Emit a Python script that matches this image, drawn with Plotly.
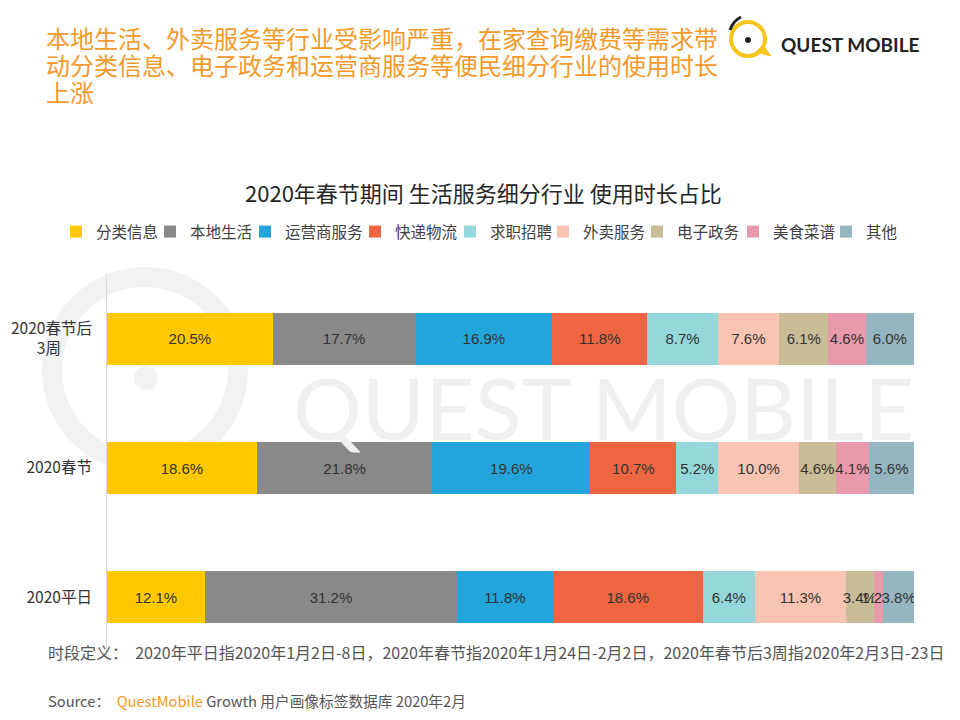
import plotly.graph_objects as go

categories = ["2020平日", "2020春节", "2020春节后<br>3周\u2003\u2003"]
series_names = ["分类信息", "本地生活", "运营商服务", "快递物流", "求职招聘", "外卖服务", "电子政务", "美食菜谱", "其他"]
# values per series, ordered as categories (平日, 春节, 春节后3周)
values = {
    "分类信息": [12.1, 18.6, 20.5],
    "本地生活": [31.2, 21.8, 17.7],
    "运营商服务": [11.8, 19.6, 16.9],
    "快递物流": [18.6, 10.7, 11.8],
    "求职招聘": [6.4, 5.2, 8.7],
    "外卖服务": [11.3, 10.0, 7.6],
    "电子政务": [3.4, 4.6, 6.1],
    "美食菜谱": [1.2, 4.1, 4.6],
    "其他": [3.8, 5.6, 6.0],
}
colors = ["#FFC800", "#898989", "#22A5DA", "#EE6541", "#94D8D9", "#FAC4B2", "#C8BD96", "#E899AB", "#95B5C0"]
# screen x of each legend marker's left edge in the reference
legend_marker_x = [78, 172, 267, 377, 472, 565, 659, 755, 848]

FONT = "Noto Sans CJK SC"
NUMFONT = "Liberation Sans, Noto Sans CJK SC"

OFF = 8  # page body margin
W, H = 960, 720
L = 107 - OFF
R = W - (914 - OFF)
T = 274 - OFF
B = H - (662 - OFF)
pw, ph = W - L - R, H - T - B

def px(x):
    return (x - OFF - L) / pw

def py(y):
    return (H - B - (y - OFF)) / ph

fig = go.Figure()
legend_layouts = {}
for i, (name, col) in enumerate(zip(series_names, colors)):
    vals = values[name]
    lg = "legend" if i == 0 else f"legend{i + 1}"
    fig.add_trace(go.Bar(
        y=categories, x=vals, name=name, orientation="h",
        marker=dict(color=col, line=dict(width=0)),
        text=[f"{v:.1f}%" for v in vals],
        textposition="inside", insidetextanchor="middle",
        textangle=0, constraintext="none",
        textfont=dict(family=NUMFONT, size=15, color="#333333"),
        hoverinfo="skip", legend=lg, showlegend=True,
    ))
    legend_layouts[lg] = dict(
        orientation="h", x=px(legend_marker_x[i] - 22), y=py(232),
        xanchor="left", yanchor="middle",
        font=dict(family=FONT, size=15.5, color="#404040"),
        itemwidth=30, bgcolor="rgba(0,0,0,0)",
    )

shapes = [
    # watermark ring
    dict(type="circle", xref="paper", yref="paper", layer="below",
         x0=px(52), x1=px(238), y0=py(463), y1=py(277),
         line=dict(color="#F2F2F2", width=20)),
    dict(type="circle", xref="paper", yref="paper", layer="below",
         x0=px(134), x1=px(158), y0=py(390), y1=py(366),
         fillcolor="#F2F2F2", line=dict(width=0)),
    # logo ring
    dict(type="circle", xref="paper", yref="paper",
         x0=px(731), x1=px(765), y0=py(56), y1=py(22),
         line=dict(color="#F7C51E", width=4)),
    dict(type="path", xref="paper", yref="paper",
         path=f"M {px(756)},{py(52)} L {px(771)},{py(56)} L {px(763)},{py(45)} Z",
         fillcolor="#F7C51E", line=dict(color="#F7C51E", width=1)),
    dict(type="circle", xref="paper", yref="paper",
         x0=px(745), x1=px(751), y0=py(43), y1=py(37),
         fillcolor="#222222", line=dict(width=0)),
    dict(type="path", xref="paper", yref="paper",
         path=f"M {px(730)},{py(30)} Q {px(733)},{py(21)} {px(741)},{py(17)}",
         line=dict(color="#222222", width=3)),
]

title_lines = [
    "本地生活、外卖服务等行业受影响严重，在家查询缴费等需求带",
    "动分类信息、电子政务和运营商服务等便民细分行业的使用时长",
    "上涨",
]
annotations = [
    dict(text="QUEST MOBILE", xref="paper", yref="paper", x=px(603), y=py(406),
         xanchor="center", yanchor="middle", showarrow=False,
         font=dict(family="Lato, Open Sans", size=86, color="#F0F0F0")),
]
for i, line in enumerate(title_lines):
    annotations.append(dict(text=line, xref="paper", yref="paper", x=px(44), y=py(38 + 27 * i),
                            xanchor="left", yanchor="middle", showarrow=False,
                            font=dict(family=FONT, size=24, color="#F39A2B")))
annotations += [
    dict(text="<b>QUEST MOBILE</b>", xref="paper", yref="paper", x=px(779), y=py(44),
         xanchor="left", yanchor="middle", showarrow=False,
         font=dict(family="Lato, Open Sans", size=19, color="#222222")),
    dict(text="2020年春节期间 生活服务细分行业 使用时长占比", xref="paper", yref="paper",
         x=px(483), y=py(192), xanchor="center", yanchor="middle", showarrow=False,
         font=dict(family=FONT, size=22, color="#262626")),
    dict(text="时段定义：  2020年平日指2020年1月2日-8日，2020年春节指2020年1月24日-2月2日，2020年春节后3周指2020年2月3日-23日",
         xref="paper", yref="paper", x=px(46), y=py(652), xanchor="left", yanchor="middle",
         showarrow=False, font=dict(family=FONT, size=16, color="#555555")),
    dict(text="Source：  <span style='color:#F39A2B'>QuestMobile</span> Growth 用户画像标签数据库 2020年2月",
         xref="paper", yref="paper", x=px(46), y=py(700), xanchor="left", yanchor="middle",
         showarrow=False, font=dict(family=FONT, size=14.7, color="#555555")),
]

fig.update_layout(
    width=W, height=H,
    barmode="stack", barnorm="percent", bargap=0.6,
    margin=dict(l=L, r=R, t=T, b=B, pad=0, autoexpand=False),
    paper_bgcolor="white", plot_bgcolor="rgba(0,0,0,0)",
    font=dict(family=FONT, color="#333333"),
    showlegend=True,
    xaxis=dict(range=[0, 100], showgrid=False, zeroline=False, showticklabels=False,
               showline=False, fixedrange=True, automargin=False),
    yaxis=dict(showgrid=False, zeroline=False, showline=True, linecolor="#D9D9D9", linewidth=1,
               ticks="", tickfont=dict(family=FONT, size=15.5, color="#333333"),
               ticklabelstandoff=11, automargin=False,
               categoryorder="array", categoryarray=categories),
    shapes=shapes, annotations=annotations,
    **legend_layouts,
)

fig.write_html("out.html")
